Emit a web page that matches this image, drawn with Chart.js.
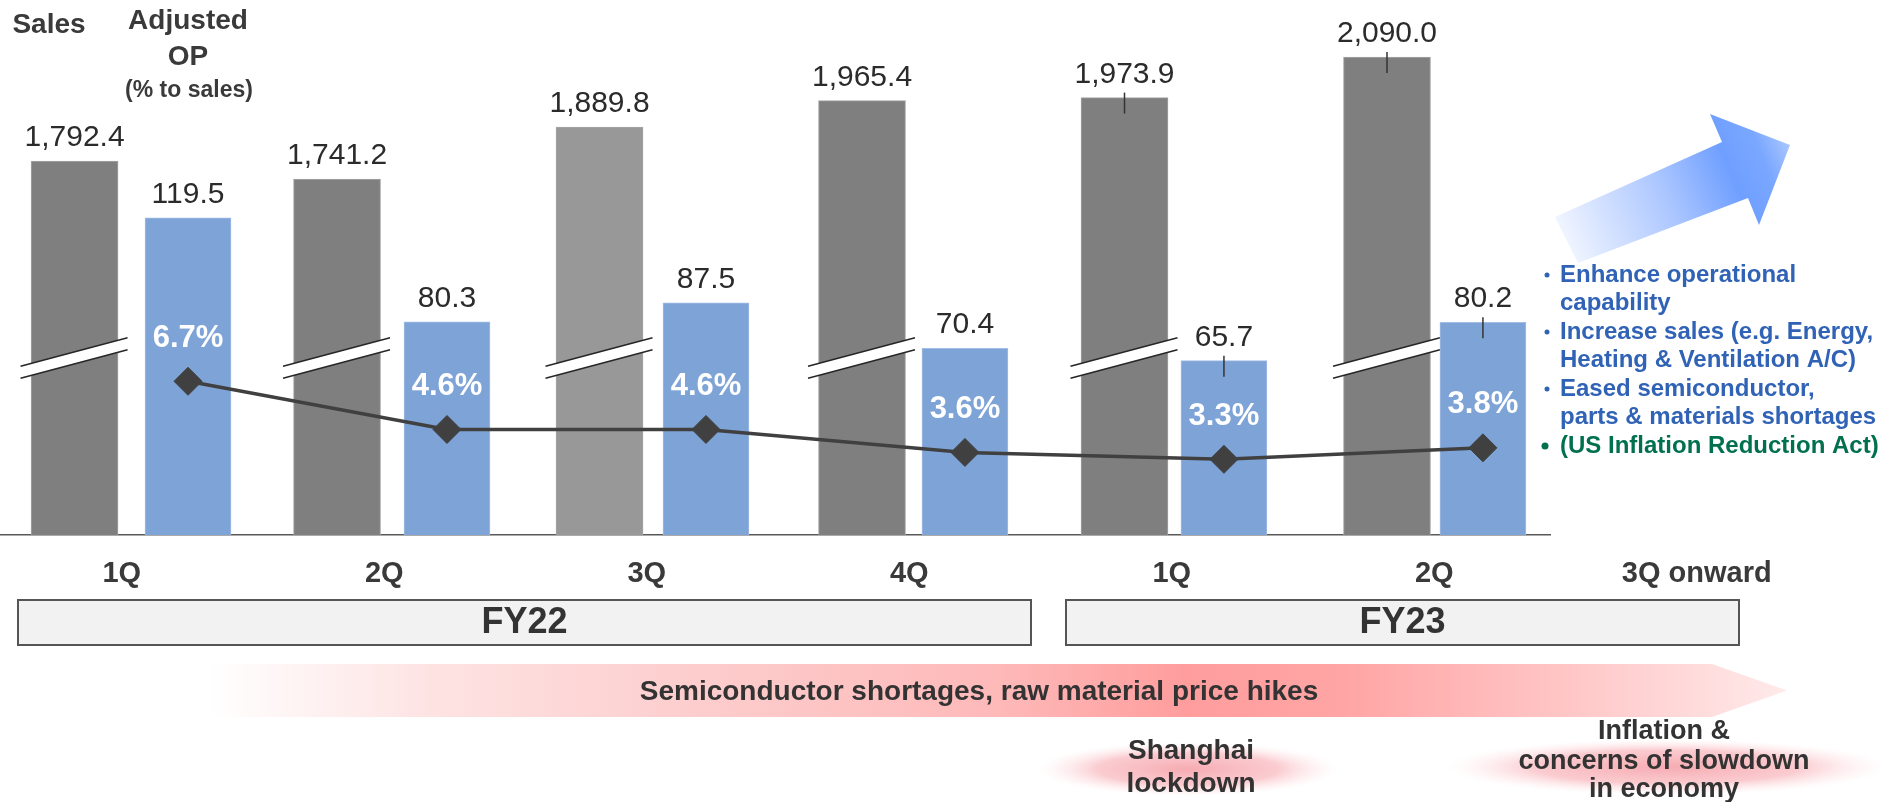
<!DOCTYPE html>
<html>
<head>
<meta charset="utf-8">
<title>Sales and Adjusted OP by quarter</title>
<script src="https://cdn.jsdelivr.net/npm/chart.js@4.4.1/dist/chart.umd.min.js"></script>
<style>
  html, body { margin: 0; padding: 0; background: #fff; }
  #wrap { position: relative; width: 1880px; height: 802px; }
</style>
</head>
<body>
<div id="wrap"><canvas id="salesChart"></canvas></div>
<script>
// quarterly figures (sales and adjusted OP, OP margin in %)
const quarterLabels = ['1Q', '2Q', '3Q', '4Q', '1Q', '2Q', '3Q onward'];
const sales = [1792.4, 1741.2, 1889.8, 1965.4, 1973.9, 2090.0];
const adjustedOp = [119.5, 80.3, 87.5, 70.4, 65.7, 80.2];
const opMargin = [6.7, 4.6, 4.6, 3.6, 3.3, 3.8];
const salesColors = ['#7f7f7f', '#7f7f7f', '#989898', '#7f7f7f', '#7f7f7f', '#7f7f7f'];
const tickedQuarters = [4, 5];
const fiscalYears = ['FY22', 'FY23'];

const headwind = 'Semiconductor shortages, raw material price hikes';
const outlookLines = [
	{ text: 'Enhance operational', bullet: true },
	{ text: 'capability' },
	{ text: 'Increase sales (e.g. Energy,', bullet: true },
	{ text: 'Heating & Ventilation A/C)' },
	{ text: 'Eased semiconductor,', bullet: true },
	{ text: 'parts & materials shortages' },
	{ text: '(US Inflation Reduction Act)', bullet: true, green: true }
];

const FONT = "'Liberation Sans', Arial, sans-serif";
const DARK = '#3a3a3a';

function drawText(ctx, str, x, y, size, opts = {}) {
	ctx.save();
	ctx.font = (opts.bold ? 'bold ' : '') + size + 'px ' + FONT;
	ctx.fillStyle = opts.color || DARK;
	ctx.textAlign = opts.align || 'center';
	ctx.textBaseline = 'middle';
	ctx.fillText(str, x, y);
	ctx.restore();
}

function fmt(v) {
	return v.toLocaleString('en-US', { minimumFractionDigits: 1, maximumFractionDigits: 1 });
}

function glow(ctx, cx, cy, rx, ry) {
	ctx.save();
	ctx.translate(cx, cy);
	ctx.scale(1, ry / rx);
	const g = ctx.createRadialGradient(0, 0, 0, 0, 0, rx);
	g.addColorStop(0, 'rgba(240,120,130,0.62)');
	g.addColorStop(0.6, 'rgba(244,140,150,0.45)');
	g.addColorStop(1, 'rgba(255,210,214,0)');
	ctx.fillStyle = g;
	ctx.beginPath();
	ctx.arc(0, 0, rx, 0, Math.PI * 2);
	ctx.fill();
	ctx.restore();
}

const decorations = {
	id: 'decorations',
	// axis break across each sales bar, drawn before the OP bars go on top
	afterDatasetDraw(chart, args) {
		if (args.meta.label !== 'Sales') return;
		const ctx = chart.ctx;
		const y0 = chart.scales.ys.getPixelForValue(1230);
		const slope = -0.2655;
		args.meta.data.forEach(bar => {
			const xl = bar.x - 54, xr = bar.x + 53;
			const yt = x => y0 - 6 + slope * (x - bar.x);
			const yb = x => y0 + 6 + slope * (x - bar.x);
			ctx.save();
			ctx.fillStyle = '#fff';
			ctx.beginPath();
			ctx.moveTo(xl, yt(xl));
			ctx.lineTo(xr, yt(xr));
			ctx.lineTo(xr, yb(xr));
			ctx.lineTo(xl, yb(xl));
			ctx.closePath();
			ctx.fill();
			ctx.strokeStyle = '#262626';
			ctx.lineWidth = 1.5;
			ctx.beginPath();
			ctx.moveTo(xl, yt(xl));
			ctx.lineTo(xr, yt(xr));
			ctx.moveTo(xl, yb(xl));
			ctx.lineTo(xr, yb(xr));
			ctx.stroke();
			ctx.restore();
		});
	},
	afterDatasetsDraw(chart) {
		const ctx = chart.ctx;
		const metas = chart.getSortedVisibleDatasetMetas();
		const salesMeta = metas.find(m => m.label === 'Sales');
		const opMeta = metas.find(m => m.label === 'Adjusted OP');
		const lineMeta = metas.find(m => m.label === 'OP margin');

		salesMeta.data.forEach((bar, i) => drawText(ctx, fmt(sales[i]), bar.x, bar.y - 23, 30, { color: '#2b2b2b' }));
		opMeta.data.forEach((bar, i) => drawText(ctx, fmt(adjustedOp[i]), bar.x, bar.y - 23, 30, { color: '#2b2b2b' }));

		ctx.save();
		ctx.strokeStyle = '#333';
		ctx.lineWidth = 1.5;
		tickedQuarters.forEach(i => {
			[salesMeta.data[i], opMeta.data[i]].forEach(bar => {
				ctx.beginPath();
				ctx.moveTo(bar.x, bar.y - 5);
				ctx.lineTo(bar.x, bar.y + 16);
				ctx.stroke();
			});
		});
		ctx.restore();

		lineMeta.data.forEach((pt, i) => drawText(ctx, opMargin[i].toFixed(1) + '%', pt.x, pt.y - 43, 31, { bold: true, color: '#fff' }));
	},
	afterDraw(chart) {
		const ctx = chart.ctx;

		// column headers
		drawText(ctx, 'Sales', 49, 25, 28, { bold: true });
		drawText(ctx, 'Adjusted', 188, 21, 28, { bold: true });
		drawText(ctx, 'OP', 188, 57, 28, { bold: true });
		drawText(ctx, '(% to sales)', 189, 91, 23, { bold: true });

		// fiscal year boxes
		const boxes = [[18, 1031], [1066, 1739]];
		boxes.forEach(([x0, x1], i) => {
			ctx.save();
			ctx.fillStyle = '#f2f2f2';
			ctx.strokeStyle = '#555';
			ctx.lineWidth = 2;
			ctx.fillRect(x0, 600, x1 - x0, 45);
			ctx.strokeRect(x0, 600, x1 - x0, 45);
			ctx.restore();
			drawText(ctx, fiscalYears[i], (x0 + x1) / 2, 623, 36, { bold: true, color: '#333' });
		});

		// headwind arrow
		ctx.save();
		const rg = ctx.createLinearGradient(208, 0, 1787, 0);
		rg.addColorStop(0, 'rgba(255,255,255,1)');
		rg.addColorStop(0.14, '#fee3e3');
		rg.addColorStop(0.31, '#fdcdcd');
		rg.addColorStop(0.5, '#feb9b9');
		rg.addColorStop(0.62, '#ff9d9d');
		rg.addColorStop(0.72, '#ffa5a5');
		rg.addColorStop(0.86, '#ffc6c6');
		rg.addColorStop(1, '#ffeaea');
		ctx.fillStyle = rg;
		ctx.beginPath();
		ctx.moveTo(208, 664);
		ctx.lineTo(1712, 664);
		ctx.lineTo(1787, 690.5);
		ctx.lineTo(1712, 717);
		ctx.lineTo(208, 717);
		ctx.closePath();
		ctx.fill();
		ctx.restore();
		drawText(ctx, headwind, 979, 692, 28, { bold: true, color: '#333' });

		// pink glows behind the event notes
		glow(ctx, 1188, 769, 150, 27);
		glow(ctx, 1667, 767, 220, 28);
		drawText(ctx, 'Shanghai', 1191, 751, 28, { bold: true, color: '#333' });
		drawText(ctx, 'lockdown', 1191, 784, 28, { bold: true, color: '#333' });
		drawText(ctx, 'Inflation &', 1664, 732, 27, { bold: true, color: '#333' });
		drawText(ctx, 'concerns of slowdown', 1664, 762, 27, { bold: true, color: '#333' });
		drawText(ctx, 'in economy', 1664, 790, 27, { bold: true, color: '#333' });

		// upward outlook arrow
		ctx.save();
		const bg = ctx.createLinearGradient(1562, 242, 1795, 142);
		bg.addColorStop(0, '#f2f6ff');
		bg.addColorStop(0.45, '#abc6ff');
		bg.addColorStop(0.72, '#6f9fff');
		bg.addColorStop(0.86, '#7aa7ff');
		bg.addColorStop(1, '#b3ccff');
		ctx.fillStyle = bg;
		ctx.beginPath();
		ctx.moveTo(1555, 217);
		ctx.lineTo(1722, 142);
		ctx.lineTo(1710, 114);
		ctx.lineTo(1790, 145);
		ctx.lineTo(1759, 225);
		ctx.lineTo(1748, 198);
		ctx.lineTo(1578, 263);
		ctx.closePath();
		ctx.fill();
		ctx.restore();

		// outlook bullets
		outlookLines.forEach((line, i) => {
			const y = 275 + i * 28.5;
			const color = line.green ? '#00704f' : '#3063b6';
			if (line.bullet) {
				ctx.save();
				ctx.fillStyle = color;
				ctx.beginPath();
				ctx.arc(line.green ? 1545 : 1547, y, line.green ? 3.5 : 2.5, 0, Math.PI * 2);
				ctx.fill();
				ctx.restore();
			}
			drawText(ctx, line.text, 1560, y, 24, { bold: true, color, align: 'left' });
		});
	}
};

new Chart(document.getElementById('salesChart'), {
	type: 'bar',
	data: {
		datasets: [
			{
				type: 'line',
				label: 'OP margin',
				data: opMargin.map((v, i) => ({ x: i, y: v })),
				xAxisID: 'xo',
				yAxisID: 'yp',
				order: 0,
				borderColor: '#404040',
				borderWidth: 3.5,
				pointStyle: 'rectRot',
				pointRadius: 14,
				pointBackgroundColor: '#404040',
				pointBorderColor: '#404040',
				pointBorderWidth: 1,
				tension: 0,
				clip: false
			},
			{
				label: 'Adjusted OP',
				data: adjustedOp.map((v, i) => ({ x: i, y: v })),
				xAxisID: 'xo',
				yAxisID: 'yo',
				grouped: false,
				order: 1,
				backgroundColor: '#7ea3d6',
				borderColor: '#a3bde6',
				borderWidth: 1,
				barThickness: 86
			},
			{
				label: 'Sales',
				data: sales.map((v, i) => ({ x: i, y: v })),
				xAxisID: 'xs',
				yAxisID: 'ys',
				grouped: false,
				order: 2,
				backgroundColor: salesColors,
				borderColor: '#a6a6a6',
				borderWidth: 1,
				barThickness: 87
			}
		]
	},
	options: {
		responsive: true,
		maintainAspectRatio: false,
		animation: false,
		layout: { autoPadding: false, padding: { top: 20, right: 330, bottom: 200, left: 0 } },
		plugins: {
			legend: { display: false },
			tooltip: { enabled: false }
		},
		scales: {
			xs: {
				type: 'linear',
				position: 'bottom',
				offset: false,
				min: -0.284,
				max: 5.621,
				grid: { display: false, drawTicks: false, offset: false },
				border: { display: true, color: '#595959', width: 1.5 },
				afterBuildTicks: axis => {
					axis.ticks = quarterLabels.map((_, i) => ({ value: i + 0.18 }));
				},
				afterFit: axis => { axis.height = 67; },
				ticks: {
					autoSkip: false,
					maxRotation: 0,
					minRotation: 0,
					padding: 22,
					color: '#3a3a3a',
					font: { family: FONT, size: 29, weight: 'bold' },
					callback: (value, index) => quarterLabels[index]
				}
			},
			xo: { type: 'linear', display: false, offset: false, min: -0.726, max: 5.259 },
			ys: { display: false, min: 723.5, max: 2195.7 },
			yo: { display: false, min: 0, max: 194.1 },
			yp: { display: false, min: 0, max: 22.45 }
		}
	},
	plugins: [decorations]
});
</script>
</body>
</html>
